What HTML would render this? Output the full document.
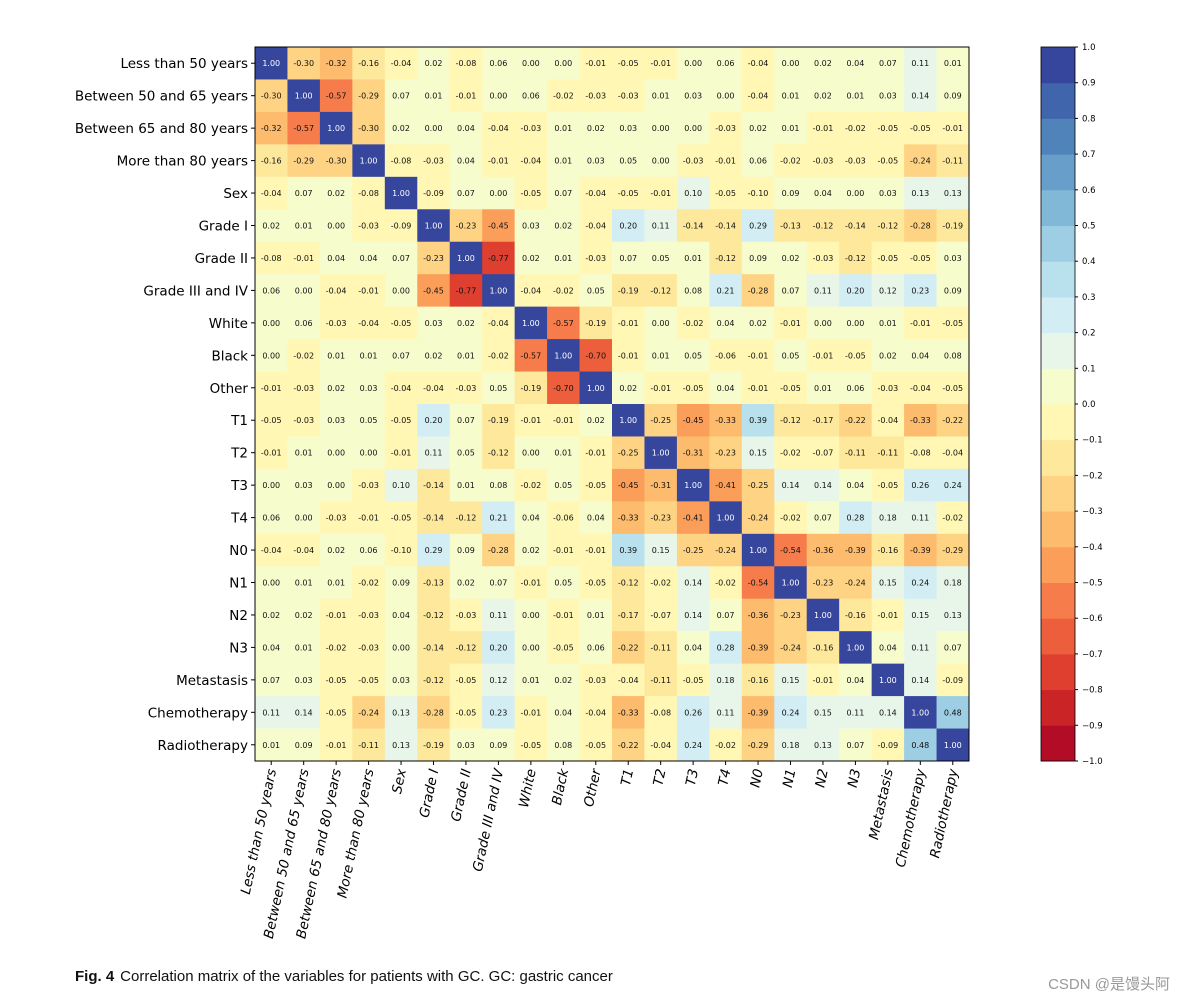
<!DOCTYPE html>
<html><head><meta charset="utf-8"><style>
body{margin:0;background:#fff;width:1188px;height:1001px;overflow:hidden;font-family:"Liberation Sans","DejaVu Sans",sans-serif}
</style></head><body>
<svg id="chart" width="1188" height="1001" xmlns="http://www.w3.org/2000/svg"></svg>
<script>
const labels=["Less than 50 years","Between 50 and 65 years","Between 65 and 80 years","More than 80 years","Sex","Grade I","Grade II","Grade III and IV","White","Black","Other","T1","T2","T3","T4","N0","N1","N2","N3","Metastasis","Chemotherapy","Radiotherapy"];
const matrix=[
[1.00,-0.30,-0.32,-0.16,-0.04,0.02,-0.08,0.06,0.00,0.00,-0.01,-0.05,-0.01,0.00,0.06,-0.04,-0.00,0.02,0.04,0.07,0.11,0.01],
[-0.30,1.00,-0.57,-0.29,0.07,0.01,-0.01,0.00,0.06,-0.02,-0.03,-0.03,0.01,0.03,-0.00,-0.04,0.01,0.02,0.01,0.03,0.14,0.09],
[-0.32,-0.57,1.00,-0.30,0.02,-0.00,0.04,-0.04,-0.03,0.01,0.02,0.03,0.00,-0.00,-0.03,0.02,0.01,-0.01,-0.02,-0.05,-0.05,-0.01],
[-0.16,-0.29,-0.30,1.00,-0.08,-0.03,0.04,-0.01,-0.04,0.01,0.03,0.05,0.00,-0.03,-0.01,0.06,-0.02,-0.03,-0.03,-0.05,-0.24,-0.11],
[-0.04,0.07,0.02,-0.08,1.00,-0.09,0.07,-0.00,-0.05,0.07,-0.04,-0.05,-0.01,0.10,-0.05,-0.10,0.09,0.04,-0.00,0.03,0.13,0.13],
[0.02,0.01,-0.00,-0.03,-0.09,1.00,-0.23,-0.45,0.03,0.02,-0.04,0.20,0.11,-0.14,-0.14,0.29,-0.13,-0.12,-0.14,-0.12,-0.28,-0.19],
[-0.08,-0.01,0.04,0.04,0.07,-0.23,1.00,-0.77,0.02,0.01,-0.03,0.07,0.05,0.01,-0.12,0.09,0.02,-0.03,-0.12,-0.05,-0.05,0.03],
[0.06,0.00,-0.04,-0.01,-0.00,-0.45,-0.77,1.00,-0.04,-0.02,0.05,-0.19,-0.12,0.08,0.21,-0.28,0.07,0.11,0.20,0.12,0.23,0.09],
[0.00,0.06,-0.03,-0.04,-0.05,0.03,0.02,-0.04,1.00,-0.57,-0.19,-0.01,-0.00,-0.02,0.04,0.02,-0.01,-0.00,-0.00,0.01,-0.01,-0.05],
[0.00,-0.02,0.01,0.01,0.07,0.02,0.01,-0.02,-0.57,1.00,-0.70,-0.01,0.01,0.05,-0.06,-0.01,0.05,-0.01,-0.05,0.02,0.04,0.08],
[-0.01,-0.03,0.02,0.03,-0.04,-0.04,-0.03,0.05,-0.19,-0.70,1.00,0.02,-0.01,-0.05,0.04,-0.01,-0.05,0.01,0.06,-0.03,-0.04,-0.05],
[-0.05,-0.03,0.03,0.05,-0.05,0.20,0.07,-0.19,-0.01,-0.01,0.02,1.00,-0.25,-0.45,-0.33,0.39,-0.12,-0.17,-0.22,-0.04,-0.33,-0.22],
[-0.01,0.01,0.00,0.00,-0.01,0.11,0.05,-0.12,-0.00,0.01,-0.01,-0.25,1.00,-0.31,-0.23,0.15,-0.02,-0.07,-0.11,-0.11,-0.08,-0.04],
[0.00,0.03,-0.00,-0.03,0.10,-0.14,0.01,0.08,-0.02,0.05,-0.05,-0.45,-0.31,1.00,-0.41,-0.25,0.14,0.14,0.04,-0.05,0.26,0.24],
[0.06,-0.00,-0.03,-0.01,-0.05,-0.14,-0.12,0.21,0.04,-0.06,0.04,-0.33,-0.23,-0.41,1.00,-0.24,-0.02,0.07,0.28,0.18,0.11,-0.02],
[-0.04,-0.04,0.02,0.06,-0.10,0.29,0.09,-0.28,0.02,-0.01,-0.01,0.39,0.15,-0.25,-0.24,1.00,-0.54,-0.36,-0.39,-0.16,-0.39,-0.29],
[-0.00,0.01,0.01,-0.02,0.09,-0.13,0.02,0.07,-0.01,0.05,-0.05,-0.12,-0.02,0.14,-0.02,-0.54,1.00,-0.23,-0.24,0.15,0.24,0.18],
[0.02,0.02,-0.01,-0.03,0.04,-0.12,-0.03,0.11,-0.00,-0.01,0.01,-0.17,-0.07,0.14,0.07,-0.36,-0.23,1.00,-0.16,-0.01,0.15,0.13],
[0.04,0.01,-0.02,-0.03,-0.00,-0.14,-0.12,0.20,-0.00,-0.05,0.06,-0.22,-0.11,0.04,0.28,-0.39,-0.24,-0.16,1.00,0.04,0.11,0.07],
[0.07,0.03,-0.05,-0.05,0.03,-0.12,-0.05,0.12,0.01,0.02,-0.03,-0.04,-0.11,-0.05,0.18,-0.16,0.15,-0.01,0.04,1.00,0.14,-0.09],
[0.11,0.14,-0.05,-0.24,0.13,-0.28,-0.05,0.23,-0.01,0.04,-0.04,-0.33,-0.08,0.26,0.11,-0.39,0.24,0.15,0.11,0.14,1.00,0.48],
[0.01,0.09,-0.01,-0.11,0.13,-0.19,0.03,0.09,-0.05,0.08,-0.05,-0.22,-0.04,0.24,-0.02,-0.29,0.18,0.13,0.07,-0.09,0.48,1.00]];
const cbTicks=[-1.0,-0.9,-0.8,-0.7,-0.6,-0.5,-0.4,-0.3,-0.2,-0.1,0.0,0.1,0.2,0.3,0.4,0.5,0.6,0.7,0.8,0.9,1.0];

const NS="http://www.w3.org/2000/svg";
const svg=document.getElementById('chart');
const X0=255,Y0=47,X1=969,Y1=761,n=labels.length,cw=(X1-X0)/n,ch=(Y1-Y0)/n;
const xS=i=>X0+i*cw, yS=i=>Y0+i*ch;
const anchors=["#a50026","#d73027","#f46d43","#fdae61","#fee090","#ffffbf","#e0f3f8","#abd9e9","#74add1","#4575b4","#313695"];
function hex(h){return [1,3,5].map(k=>parseInt(h.substr(k,2),16));}
function cmap(t){t=Math.max(0,Math.min(1,t));const p=t*10,i=Math.min(9,Math.floor(p)),f=p-i;const a=hex(anchors[i]),b=hex(anchors[i+1]);return `rgb(${a.map((v,k)=>Math.round(v+(b[k]-v)*f)).join(',')})`;}
function binColor(v){let b=Math.floor((v+1)/0.1+1e-9);if(v<0&&v>-0.005)b=9;b=Math.max(0,Math.min(19,b));return cmap((b+0.5)/20);}
function el(tag,attrs,parent){const e=document.createElementNS(NS,tag);for(const k in attrs)e.setAttribute(k,attrs[k]);(parent||svg).appendChild(e);return e;}
const LF='"DejaVu Sans","Liberation Sans",sans-serif';

const g=el('g',{});


for(let r=0;r<n;r++)for(let c=0;c<n;c++){
  const v=matrix[r][c];
  const rc=el('rect',{x:xS(c),y:yS(r),width:cw+0.5,height:ch+0.5,fill:binColor(v)},g);
  
  
  const t=el('text',{x:xS(c)+cw/2,y:yS(r)+ch/2+3,'text-anchor':'middle','font-size':'8','font-family':LF,fill:v>0.95?'#fff':'#111'},g);
  
  
  t.textContent=v.toFixed(2);
}
el('rect',{x:X0,y:Y0,width:X1-X0,height:Y1-Y0,fill:'none',stroke:'#000','stroke-width':1});
for(let i=0;i<n;i++){
  el('line',{x1:X0-4,x2:X0,y1:yS(i)+ch/2,y2:yS(i)+ch/2,stroke:'#000'});
  const yl=el('text',{x:X0-7,y:yS(i)+ch/2+5,'text-anchor':'end','font-size':'13.5','font-family':LF,fill:'#000'});
  
  
  yl.textContent=labels[i];
  const cx=xS(i)+cw/2;
  el('line',{x1:cx,x2:cx,y1:Y1,y2:Y1+4,stroke:'#000'});
  const xl=el('text',{x:0,y:0,'text-anchor':'end','font-size':'13.5','font-family':LF,'font-style':'italic',fill:'#000',transform:`translate(${cx+5},${Y1+9}) rotate(-78)`});
  
  
  xl.textContent=labels[i];
}
const CBX=1041,CBW=34;
const cbY=v=>Y1-(v+1)/2*(Y1-Y0);
const cb=el('g',{});


for(let b=0;b<20;b++){
  const v0=-1+b*0.1;
  el('rect',{x:CBX,y:cbY(v0+0.1),width:CBW,height:(Y1-Y0)/20+0.5,fill:cmap((b+0.5)/20)},cb);
}
el('rect',{x:CBX,y:Y0,width:CBW,height:Y1-Y0,fill:'none',stroke:'#000','stroke-width':0.8},cb);
cbTicks.forEach(v=>{
  el('line',{x1:CBX+CBW,x2:CBX+CBW+3,y1:cbY(v),y2:cbY(v),stroke:'#000'},cb);
  const t=el('text',{x:CBX+CBW+7,y:cbY(v)+3,'font-size':'8.5','font-family':LF,fill:'#000'},cb);
  
  
  t.textContent=(v<0?'\u2212':'')+Math.abs(v).toFixed(1);
});
const cap=el('text',{x:75,y:981,'font-size':'15',fill:'#111'});


const b1=el('tspan',{'font-weight':'bold'},cap);b1.textContent='Fig. 4';
const b2=el('tspan',{dx:'6'},cap);b2.textContent='Correlation matrix of the variables for patients with GC. GC: gastric cancer';
const wm=el('text',{x:1170,y:989,'text-anchor':'end','font-size':'15',fill:'#999','font-family':'"Liberation Sans","Noto Sans CJK SC",sans-serif'});


wm.textContent='CSDN @是馒头阿';
</script>
</body></html>
